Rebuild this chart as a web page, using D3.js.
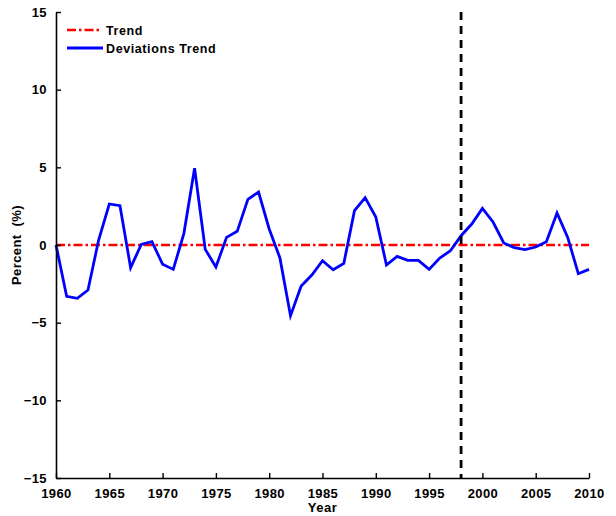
<!DOCTYPE html>
<html>
<head>
<meta charset="utf-8">
<script src="https://cdn.jsdelivr.net/npm/d3@7"></script>
<style>
  html, body { margin: 0; padding: 0; background: #fff; }
  svg { display: block; }
  text { font-family: "Liberation Sans", Arial, sans-serif; font-weight: bold; fill: #000; }
</style>
</head>
<body>
<svg id="chart" width="616" height="516"></svg>
<script>
// Annual deviations from trend, 1960–2010 (percent)
const years = d3.range(1960, 2011);
const deviations = [
  0.00, -3.30, -3.43, -2.90, 0.32, 2.64, 2.53, -1.46, 0.04, 0.21,
  -1.24, -1.57, 0.75, 4.94, -0.28, -1.42, 0.49, 0.88, 2.94, 3.41,
  1.03, -0.82, -4.55, -2.64, -1.93, -1.01, -1.59, -1.18, 2.21, 3.05,
  1.80, -1.29, -0.73, -0.99, -0.99, -1.57, -0.84, -0.37, 0.60, 1.35,
  2.36, 1.48, 0.13, -0.17, -0.30, -0.13, 0.21, 2.06, 0.49, -1.85,
  -1.57
];
const trendValue = 0;
const breakYear = 1998;
const xTicks = [1960, 1965, 1970, 1975, 1980, 1985, 1990, 1995, 2000, 2005, 2010];
const yTicks = [-15, -10, -5, 0, 5, 10, 15];
const legendItems = ["Trend", "Deviations Trend"];

const svg = d3.select("#chart");
const plotLeft = 56, plotRight = 589, plotTop = 12, plotBottom = 478;

const x = d3.scaleLinear().domain([1960, 2010]).range([plotLeft, plotRight]);
const y = d3.scaleLinear().domain([-15, 15]).range([plotBottom, plotTop]);

// Trend line (dash-dot)
svg.append("line")
  .attr("x1", x(1960)).attr("x2", x(2010))
  .attr("y1", y(trendValue)).attr("y2", y(trendValue))
  .attr("stroke", "#ff0000").attr("stroke-width", 2.6)
  .attr("stroke-dasharray", "9,3,2.5,3");

// Deviations series
const line = d3.line().x((d, i) => x(years[i])).y(d => y(d));
svg.append("path")
  .datum(deviations)
  .attr("d", line)
  .attr("fill", "none")
  .attr("stroke", "#0000ff")
  .attr("stroke-width", 2.8)
  .attr("stroke-linejoin", "miter");

// Vertical break marker
svg.append("line")
  .attr("x1", x(breakYear)).attr("x2", x(breakYear))
  .attr("y1", y(15)).attr("y2", y(-15))
  .attr("stroke", "#000").attr("stroke-width", 2.8)
  .attr("stroke-dasharray", "8,6");

// Axes
const xAxis = d3.axisBottom(x).tickValues(xTicks).tickFormat(d3.format("d"))
  .tickSizeInner(-5).tickSizeOuter(0).tickPadding(11);
const yAxis = d3.axisLeft(y).tickValues(yTicks).tickFormat(d3.format("d"))
  .tickSizeInner(-5).tickSizeOuter(0).tickPadding(9);

const gx = svg.append("g").attr("transform", `translate(0,${plotBottom})`).call(xAxis);
const gy = svg.append("g").attr("transform", `translate(${plotLeft},0)`).call(yAxis);
[gx, gy].forEach(g => {
  g.select(".domain").attr("stroke", "#000").attr("stroke-width", 1.6);
  g.selectAll(".tick line").attr("stroke", "#000").attr("stroke-width", 1.4);
  g.selectAll(".tick text")
    .attr("font-family", "Liberation Sans, Arial, sans-serif")
    .attr("font-weight", "bold").attr("font-size", 13).attr("fill", "#000")
    .attr("letter-spacing", 0.4);
});

// Axis titles
svg.append("text").attr("x", (plotLeft + plotRight) / 2).attr("y", 512)
  .attr("text-anchor", "middle").attr("font-size", 13).attr("letter-spacing", 0.5).text("Year");
svg.append("text")
  .attr("transform", `translate(21,${(plotTop + plotBottom) / 2}) rotate(-90)`)
  .attr("text-anchor", "middle").attr("font-size", 13).attr("letter-spacing", 0.4)
  .attr("xml:space", "preserve").text("Percent  (%)");

// Legend
const lg = svg.append("g");
lg.append("line").attr("x1", 67).attr("x2", 99).attr("y1", 30).attr("y2", 30)
  .attr("stroke", "#ff0000").attr("stroke-width", 2.6).attr("stroke-dasharray", "9,3,2.5,3");
lg.append("line").attr("x1", 67).attr("x2", 103).attr("y1", 48).attr("y2", 48)
  .attr("stroke", "#0000ff").attr("stroke-width", 2.8);
lg.selectAll("text.leg").data(legendItems).join("text").attr("class", "leg")
  .attr("x", 106).attr("y", (d, i) => 34.5 + i * 18)
  .attr("font-size", 12.5).attr("letter-spacing", 0.6).text(d => d);
</script>
</body>
</html>
